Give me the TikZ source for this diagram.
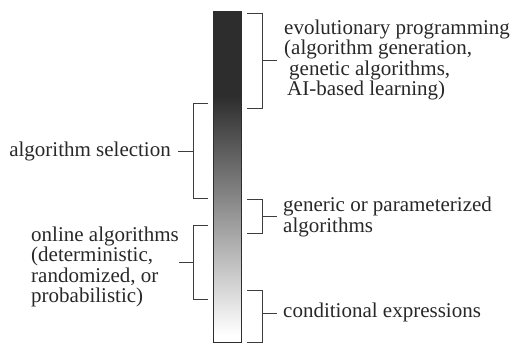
\documentclass[tikz,border=0pt]{standalone}
\usepackage{fontspec}
\setmainfont{Liberation Serif}
\usepackage{tikz}
\usetikzlibrary{positioning,calc}
\definecolor{inkgray}{RGB}{40,40,40}
\definecolor{bardark}{RGB}{45,45,45}
\tikzset{
  lbl/.style={font=\fontsize{21}{20.2}\selectfont, inner sep=0pt,
              align=left, text=inkgray},
  brk/.style={line width=1pt, inkgray!90},
  barline/.style={line width=0.8pt, bardark},
}

\begin{document}
\begin{tikzpicture}[x=1pt,y=-1pt]
  \useasboundingbox (0,0) rectangle (514,343);

  % Shaded bar
  \fill[bardark] (213,11) rectangle (241,96);
  \shade[top color=bardark, bottom color=white] (213,96) rectangle (241,335);
  \fill[white] (213,335) rectangle (241,342);
  \draw[barline] (213,11) rectangle (241,342);

  % Labels
  \node[lbl, anchor=west] (evo) at (284,60) {evolutionary programming\\
    (algorithm generation,\\ \hspace*{5pt}genetic algorithms,\\
    \hspace*{3pt}AI-based learning)};
  \node[lbl, anchor=west] (gen) at (283,217) {generic or parameterized\\algorithms};
  \node[lbl, anchor=west] (cnd) at (283,312) {conditional expressions};
  \node[lbl, anchor=east] (sel) at (171,151) {algorithm selection};
  \node[lbl, anchor=west] (onl) at (31,267) {online algorithms\\(deterministic,\\
    randomized, or\\probabilistic)};

  % Right brackets
  \foreach \t/\b/\m/\n in {13/108/60/evo, 199/233/216/gen, 290/342/313/cnd}{
    \draw[brk] (247,\t) -- (262,\t) -- (262,\b) -- (247,\b);
    \coordinate (\n-b) at (262,\m);
  }
  \draw[brk] (evo-b) -- ([xshift=-7pt]evo.west |- evo-b);
  \draw[brk] (gen-b) -- ([xshift=-6pt]gen.west |- gen-b);
  \draw[brk] (cnd-b) -- ([xshift=-6pt]cnd.west |- cnd-b);

  % Left brackets
  \foreach \t/\b/\m/\n in {103/198/151/sel, 225/299/262/onl}{
    \draw[brk] (208,\t) -- (193,\t) -- (193,\b) -- (208,\b);
    \coordinate (\n-b) at (193,\m);
  }
  \draw[brk] (sel-b) -- ([xshift=7pt]sel.east |- sel-b);
  \draw[brk] (onl-b) -- (onl.east |- onl-b);
\end{tikzpicture}
\end{document}
